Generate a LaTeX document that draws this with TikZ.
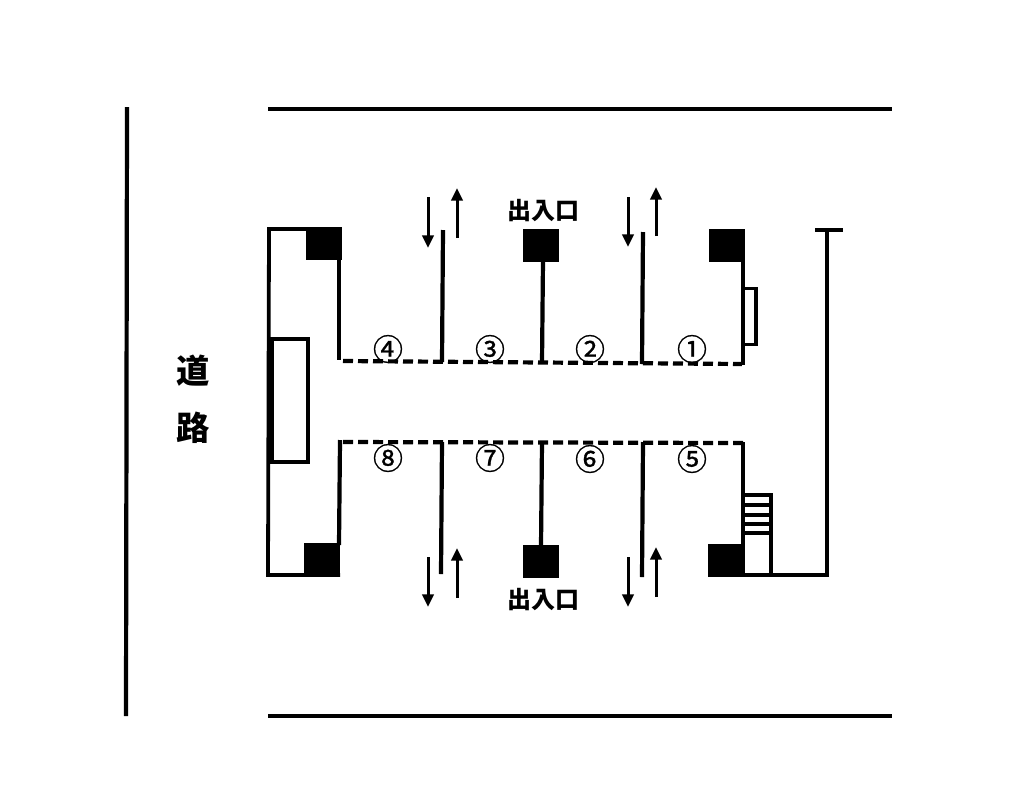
\documentclass[tikz,border=0pt]{standalone}
\usepackage{fontspec}
\setmainfont{Noto Sans CJK JP}
\newfontfamily\stallfont[FakeBold=0.9]{Noto Sans CJK JP}
\usetikzlibrary{arrows.meta}
\newlength{\du}
\setlength{\du}{0.75pt}
\tikzset{
  wall/.style={line width=4.2\du,line cap=butt,line join=miter},
  thinwall/.style={line width=3.8\du,line join=miter},
  roadline/.style={line width=4.2\du},
  openside/.style={line width=4.2\du,dash pattern=on 10\du off 5\du},
  post/.style={fill=black,draw=none},
  flow/.style={line width=3\du,-{Triangle[length=9.5pt,width=8.5pt]}},
  gatetext/.style={font=\fontsize{18pt}{18pt}\selectfont\bfseries,inner sep=0pt},
  roadtext/.style={font=\fontsize{25pt}{25pt}\selectfont\bfseries,inner sep=0pt},
  stalltext/.style={font=\fontsize{22.5pt}{22.5pt}\selectfont\stallfont,inner sep=0pt}
}
\begin{document}
\begin{tikzpicture}
\pgftransformxscale{1.000000}
\pgftransformyscale{-1.000000}
\useasboundingbox (0\du,0\du) rectangle (1032\du,801\du);
% road and site edges
\draw[roadline] (127\du,107\du)--(126\du,716\du);
\draw[roadline] (268\du,109\du)--(892\du,109\du);
\draw[roadline] (268\du,716\du)--(892\du,716\du);
% left building
\draw[thinwall] (340\du,229\du)--(269\du,229\du)--(268\du,575\du)--(340\du,575\du);
\draw[wall] (339\du,258\du)--(339\du,360\du);
\draw[wall] (340\du,440\du)--(339\du,545\du);
\draw[thinwall] (272\du,339\du) rectangle (308\du,462\du);
\fill (268.5\du,338\du) rectangle (273\du,463\du);
% corner posts
\fill[post] (306\du,227\du) rectangle (342\du,260\du);
\fill[post] (304\du,543\du) rectangle (340\du,576\du);
\fill[post] (523\du,229\du) rectangle (559\du,262\du);
\fill[post] (709\du,229\du) rectangle (745\du,262\du);
\fill[post] (523\du,545\du) rectangle (559\du,578\du);
\fill[post] (708\du,544\du) rectangle (745\du,577\du);
% open sides
\draw[openside] (343\du,361\du)--(742\du,364\du);
\draw[openside] (343\du,442\du)--(743\du,443\du);
% dividers
\draw[wall] (443\du,230\du)--(442\du,362\du);
\draw[wall] (543\du,260\du)--(542\du,363\du);
\draw[wall] (643\du,232\du)--(642\du,364\du);
\draw[wall] (442\du,442\du)--(441\du,574\du);
\draw[wall] (542\du,442\du)--(541\du,547\du);
\draw[wall] (643\du,442\du)--(642\du,577\du);
% right side
\draw[wall] (743\du,260\du)--(743\du,365\du);
\draw[wall] (743\du,442\du)--(743\du,546\du);
\draw[thinwall] (744\du,288.5\du)--(756\du,288.5\du)--(756\du,344.5\du)--(744\du,344.5\du);
\draw[thinwall] (744\du,495\du)--(771\du,495\du)--(771\du,575\du);
\draw[thinwall] (744\du,505\du)--(771\du,505\du);
\draw[thinwall] (744\du,515\du)--(771\du,515\du);
\draw[thinwall] (744\du,524\du)--(771\du,524\du);
\draw[thinwall] (744\du,533\du)--(771\du,533\du);
\draw[thinwall] (745\du,575\du)--(827\du,575\du)--(827\du,230\du);
\draw[thinwall] (815\du,230\du)--(843\du,230\du);
% in and out
\draw[flow] (428\du,197\du)--(428\du,248\du);
\draw[flow] (457\du,238\du)--(457\du,188\du);
\draw[flow] (628\du,197\du)--(628\du,247\du);
\draw[flow] (656\du,236\du)--(656\du,187\du);
\draw[flow] (428\du,557\du)--(428\du,607\du);
\draw[flow] (457\du,598\du)--(457\du,548\du);
\draw[flow] (628\du,557\du)--(628\du,607\du);
\draw[flow] (656\du,597\du)--(656\du,547\du);
% labels
\node[gatetext] (gatetop) at (543\du,211\du){出入口};
\node[gatetext] (gatebottom) at (543\du,600\du){出入口};
\node[roadtext] (roadone) at (193\du,371\du){道};
\node[roadtext] (roadtwo) at (193\du,428\du){路};
\node[stalltext] (stallone) at (692\du,349\du){①};
\node[stalltext] (stalltwo) at (590\du,349\du){②};
\node[stalltext] (stallthree) at (490\du,349\du){③};
\node[stalltext] (stallfour) at (388\du,349\du){④};
\node[stalltext] (stallfive) at (692\du,459\du){⑤};
\node[stalltext] (stallsix) at (590\du,459\du){⑥};
\node[stalltext] (stallseven) at (490\du,458\du){⑦};
\node[stalltext] (stalleight) at (388\du,458\du){⑧};
\end{tikzpicture}
\end{document}
